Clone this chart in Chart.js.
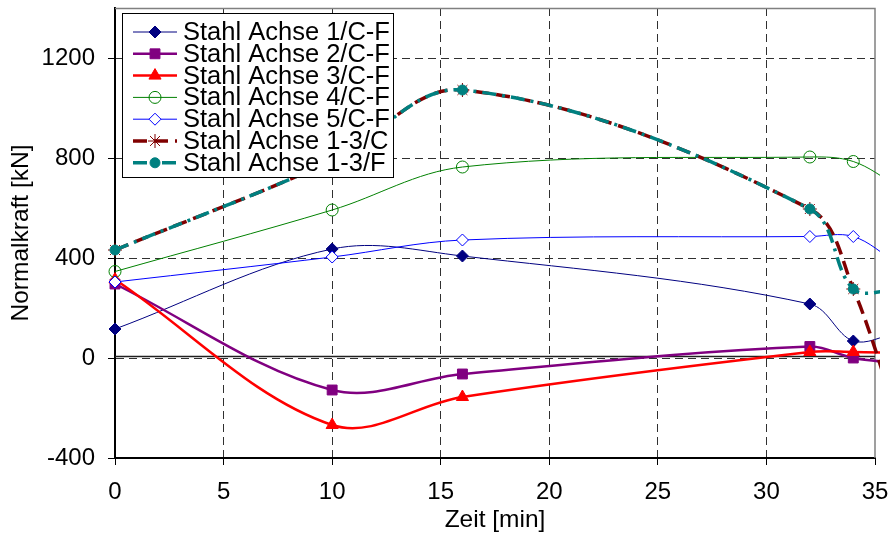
<!DOCTYPE html>
<html>
<head>
<meta charset="utf-8">
<script src="https://cdn.jsdelivr.net/npm/chart.js@4/dist/chart.umd.min.js"></script>
<style>
  html, body { margin: 0; padding: 0; background: #fff; }
</style>
</head>
<body>
<canvas id="normalkraftChart" width="891" height="535"></canvas>
<script>
// Zeitpunkte [min] und Normalkräfte [kN]
const zeit = [0, 10, 16, 32, 34, 36];
const achse1CF = [116, 436, 408, 216, 68, 100];
const achse2CF = [296, -128, -64, 46, 0, -20];
const achse3CF = [314, -268, -156, 24, 24, 20];
const achse4CF = [346, 592, 764, 804, 786, 690];
const achse5CF = [304, 404, 472, 486, 486, 380];
const achse13C = [432, 790, 1072, 596, 276, -230];
const achse13F = [432, 790, 1072, 596, 276, 272];

const yTicks = [-400, 0, 400, 800, 1200];
const FONT = '"Liberation Sans", Arial, sans-serif';

const toPoints = vals => zeit.map((t, i) => ({ x: t, y: vals[i] }));

function series(label, vals, style) {
    return Object.assign({
        label: label,
        data: toPoints(vals),
        fill: false,
        tension: 0.35,
        clip: { left: 10, top: 10, right: 5, bottom: 10 },
    }, style);
}

const datasets = [
    series('Stahl Achse 1/C-F', achse1CF, {
        borderColor: '#000080', borderWidth: 1,
        pointStyle: 'rectRot', pointRadius: 6,
        pointBackgroundColor: '#000080', pointBorderColor: '#000080', pointBorderWidth: 1,
    }),
    series('Stahl Achse 2/C-F', achse2CF, {
        borderColor: '#800080', borderWidth: 2.5,
        pointStyle: 'rect', pointRadius: 7,
        pointBackgroundColor: '#800080', pointBorderColor: '#800080', pointBorderWidth: 1,
    }),
    series('Stahl Achse 3/C-F', achse3CF, {
        borderColor: '#ff0000', borderWidth: 2.5,
        pointStyle: 'triangle', pointRadius: 7,
        pointBackgroundColor: '#ff0000', pointBorderColor: '#ff0000', pointBorderWidth: 1,
    }),
    series('Stahl Achse 4/C-F', achse4CF, {
        borderColor: '#008000', borderWidth: 1,
        pointStyle: 'circle', pointRadius: 6,
        pointBackgroundColor: 'rgba(0, 0, 0, 0)', pointBorderColor: '#008000', pointBorderWidth: 1,
    }),
    series('Stahl Achse 5/C-F', achse5CF, {
        borderColor: '#0000ff', borderWidth: 1,
        pointStyle: 'rectRot', pointRadius: 6,
        pointBackgroundColor: '#ffffff', pointBorderColor: '#0000ff', pointBorderWidth: 1,
    }),
    series('Stahl Achse 1-3/C', achse13C, {
        borderColor: '#800000', borderWidth: 3.5, borderDash: [14, 7],
        pointStyle: 'star', pointRadius: 7,
        pointBackgroundColor: '#800000', pointBorderColor: '#800000', pointBorderWidth: 1,
    }),
    series('Stahl Achse 1-3/F', achse13F, {
        borderColor: '#008080', borderWidth: 3.5, borderDash: [14, 6, 3, 6],
        pointStyle: 'circle', pointRadius: 5,
        pointBackgroundColor: '#008080', pointBorderColor: '#008080', pointBorderWidth: 1,
    }),
];
// later series lie on top
datasets.forEach((ds, i) => { ds.order = datasets.length - i; });

// plot frame (top/right) and the solid zero line
const frameLines = {
    id: 'frameLines',
    beforeDatasetsDraw(chart) {
        const { ctx, chartArea: a, scales: { y } } = chart;
        const y0 = y.getPixelForValue(0);
        ctx.save();
        ctx.strokeStyle = '#808080';
        ctx.lineWidth = 1.5;
        ctx.beginPath();
        ctx.moveTo(a.left, a.top + 0.5);
        ctx.lineTo(a.right, a.top + 0.5);
        ctx.lineTo(a.right, a.bottom);
        ctx.stroke();
        ctx.strokeStyle = '#202020';
        ctx.lineWidth = 1.5;
        ctx.beginPath();
        ctx.moveTo(a.left, y0 - 1.5);
        ctx.lineTo(a.right, y0 - 1.5);
        ctx.stroke();
        ctx.restore();
    }
};

// boxed legend inside the plot, top left
const legendBox = {
    id: 'legendBox',
    afterDraw(chart) {
        const ctx = chart.ctx;
        ctx.save();
        ctx.fillStyle = '#ffffff';
        ctx.strokeStyle = '#000000';
        ctx.lineWidth = 1;
        ctx.fillRect(122.5, 13.5, 271, 164);
        ctx.strokeRect(122.5, 13.5, 271, 164);
        ctx.font = '25.5px ' + FONT;
        ctx.textBaseline = 'middle';
        chart.data.datasets.forEach((ds, i) => {
            const y = 32 + i * 21.8;
            ctx.save();
            ctx.strokeStyle = ds.borderColor;
            ctx.lineWidth = ds.borderWidth;
            ctx.setLineDash(ds.borderDash || []);
            ctx.beginPath();
            ctx.moveTo(133, y);
            ctx.lineTo(177, y);
            ctx.stroke();
            ctx.setLineDash([]);
            ctx.fillStyle = ds.pointBackgroundColor;
            ctx.strokeStyle = ds.pointBorderColor;
            ctx.lineWidth = ds.pointBorderWidth;
            Chart.helpers.drawPoint(ctx, {
                pointStyle: ds.pointStyle,
                radius: ds.pointRadius,
                borderWidth: ds.pointBorderWidth,
                rotation: 0,
            }, 155, y);
            ctx.restore();
            ctx.fillStyle = '#000000';
            ctx.fillText(ds.label, 183, y + 1);
        });
        ctx.restore();
    }
};

const gridStyle = (hidden) => ({
    color: ctx => hidden.includes(ctx.tick && ctx.tick.value) ? 'rgba(0, 0, 0, 0)' : '#303030',
    lineWidth: 1,
    tickColor: '#000000',
    tickLength: 7,
    tickWidth: 1,
    tickBorderDash: [],
});

const normalkraftChart = new Chart(document.getElementById('normalkraftChart'), {
    type: 'line',
    data: { datasets: datasets },
    plugins: [frameLines, legendBox],
    options: {
        responsive: false,
        animation: false,
        devicePixelRatio: 1,
        layout: { padding: { top: 8, right: 16, left: 0, bottom: 0 } },
        scales: {
            x: {
                type: 'linear',
                min: 0,
                max: 35,
                ticks: { stepSize: 5, color: '#000', font: { family: FONT, size: 24 }, padding: 13, maxRotation: 0 },
                grid: gridStyle([0, 35]),
                border: { display: true, color: '#000', width: 2, dash: [8, 5] },
                title: { display: true, text: 'Zeit [min]', color: '#000', font: { family: FONT, size: 24.5 }, padding: { top: 0, bottom: 0 } },
                afterFit(scale) {
                    scale.height = 77;
                    scale.paddingLeft = 0; scale.paddingRight = 0;
                },
            },
            y: {
                min: -400,
                max: 1400,
                ticks: {
                    color: '#000', font: { family: FONT, size: 24 }, padding: 13,
                    callback: value => String(value),
                },
                afterBuildTicks(scale) {
                    scale.ticks = yTicks.map(v => ({ value: v }));
                },
                grid: gridStyle([-400]),
                border: { display: true, color: '#000', width: 2, dash: [8, 5] },
                title: { display: true, text: 'Normalkraft [kN]', color: '#000', font: { family: FONT, size: 24.5 }, padding: { top: 7, bottom: 0 } },
                afterFit(scale) {
                    scale.width = 115;
                    scale.paddingTop = 0; scale.paddingBottom = 0;
                },
            },
        },
        plugins: {
            legend: { display: false },
            tooltip: { enabled: false },
        },
    },
});
</script>
</body>
</html>
